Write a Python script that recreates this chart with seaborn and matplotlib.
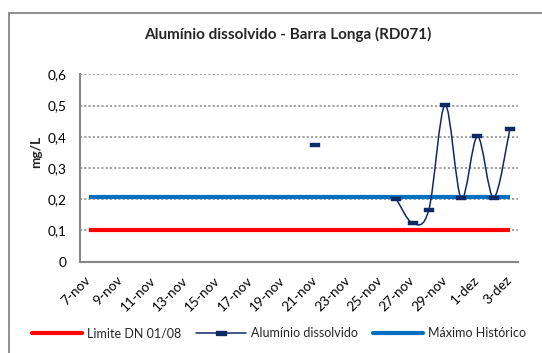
import numpy as np
import pandas as pd
import matplotlib
matplotlib.use("Agg")
import matplotlib.pyplot as plt
from matplotlib.path import Path
from matplotlib.patches import PathPatch, Rectangle
from matplotlib.lines import Line2D
import seaborn as sns

# ---- data -------------------------------------------------------------
days = pd.date_range("2015-11-07", "2015-12-03", freq="D")
tick_labels = ["7-nov", "9-nov", "11-nov", "13-nov", "15-nov", "17-nov", "19-nov",
               "21-nov", "23-nov", "25-nov", "27-nov", "29-nov", "1-dez", "3-dez"]

aluminio_dates = ["2015-11-21", "2015-11-26", "2015-11-27", "2015-11-28", "2015-11-29",
                  "2015-11-30", "2015-12-01", "2015-12-02", "2015-12-03"]
aluminio_vals = [0.373, 0.20, 0.123, 0.167, 0.502, 0.203, 0.401, 0.205, 0.425]

limite_dn = 0.1
maximo_historico = 0.208

title = "Alumínio dissolvido - Barra Longa (RD071)"
y_label = "mg/L"

# ---- style ------------------------------------------------------------
sns.set_style("white")
plt.rcParams["font.family"] = ["Lato", "DejaVu Sans"]

RED = "#FF0000"
NAVY = "#0E2A66"
BLUE = "#0070C0"
GRAY = "#868686"
FS = 9.8
LEG_FS = 9.0

W, H = 542, 353
fig = plt.figure(figsize=(W / 100, H / 100), dpi=100)
ax = fig.add_axes([80.5 / W, 1 - 261.7 / H, (518 - 80.5) / W, (261.7 - 74.3) / H])

start = days[0]
day_pos = lambda d: (pd.Timestamp(d) - start).days + 0.5  # category centre

ref = pd.DataFrame({"x": [day_pos(d) for d in days],
                    "limite": limite_dn,
                    "maximo": maximo_historico})
alu = pd.DataFrame({"x": [day_pos(d) for d in aluminio_dates], "y": aluminio_vals})

sns.lineplot(data=ref, x="x", y="limite", ax=ax, color=RED, lw=3.0,
             solid_capstyle="butt", zorder=3)
sns.lineplot(data=ref, x="x", y="maximo", ax=ax, color=BLUE, lw=3.0,
             solid_capstyle="butt", zorder=3)

# smoothed line through the consecutive run of samples (Bezier segments)
run = alu.iloc[1:].to_numpy()
verts = [tuple(run[0])]
codes = [Path.MOVETO]
n = len(run)
for i in range(n - 1):
    p0 = run[i - 1] if i > 0 else run[i]
    p1, p2 = run[i], run[i + 1]
    p3 = run[i + 2] if i + 2 < n else run[i + 1]
    c1 = p1 + (p2 - p0) / 6.0
    c2 = p2 - (p3 - p1) / 6.0
    verts += [tuple(c1), tuple(c2), tuple(p2)]
    codes += [Path.CURVE4] * 3
ax.add_patch(PathPatch(Path(verts, codes), fill=False, edgecolor=NAVY, lw=1.1, zorder=4))

dash_marker = [(-1, -0.45), (1, -0.45), (1, 0.45), (-1, 0.45), (-1, -0.45)]
sns.scatterplot(data=alu, x="x", y="y", ax=ax, marker=dash_marker, s=42,
                color=NAVY, edgecolor=NAVY, linewidth=0.3, zorder=5)

# ---- axes -------------------------------------------------------------
ax.set_xlim(0, 27)
ax.set_ylim(0, 0.6)
ax.set_yticks(np.arange(0, 0.61, 0.1))
ax.set_yticklabels(["0" if v == 0 else f"{v:.1f}".replace(".", ",") for v in np.arange(0, 0.61, 0.1)])
ax.set_xticks(np.arange(0, 28, 2))
ax.set_xticklabels([])
ax.set_xticks(np.arange(0, 27, 2) + 0.5, minor=True)
ax.set_xticklabels(tick_labels, minor=True, rotation=45, ha="right", va="center",
                   rotation_mode="anchor")
ax.tick_params(axis="x", which="minor", length=0, pad=12, labelsize=FS, colors="black")
ax.tick_params(axis="x", which="major", direction="out", length=4, width=1.2, color=GRAY)
ax.tick_params(axis="y", direction="out", length=4, width=1.2, color=GRAY, pad=6,
               labelsize=FS, labelcolor="black")
ax.set_xlabel("")
ax.set_ylabel("")

ax.grid(False)
for v in np.arange(0.1, 0.61, 0.1):
    ax.axhline(v, color=GRAY, lw=1.1, ls=(0, (1.4, 1.4)), zorder=1)

for side in ["top", "right"]:
    ax.spines[side].set_visible(False)
for side in ["left", "bottom"]:
    ax.spines[side].set_color(GRAY)
    ax.spines[side].set_linewidth(1.5)

# ---- texts ------------------------------------------------------------
fig.text(288 / W, 1 - 34 / H, title, ha="center", va="center",
         fontsize=11, fontweight="bold")
fig.text(36 / W, 1 - 152 / H, y_label, ha="center", va="center",
         rotation=90, fontsize=FS, fontweight="bold")

handles = [
    Line2D([], [], color=RED, lw=3.0),
    Line2D([], [], color=NAVY, lw=1.1, marker=dash_marker, markersize=6.5),
    Line2D([], [], color=BLUE, lw=3.0),
]
fig.legend(handles, ["Limite DN 01/08", "Alumínio dissolvido", "Máximo Histórico"],
           loc="center", bbox_to_anchor=(279 / W, 1 - 333 / H), ncol=3, frameon=False,
           fontsize=LEG_FS, handlelength=4.0, handletextpad=0.4, columnspacing=1.2,
           borderpad=0)

# chart area border
fig.add_artist(Rectangle((8.5 / W, -0.1), 1.2, 1 - 12.5 / H + 0.1, transform=fig.transFigure,
                         fill=False, edgecolor=GRAY, lw=1.3))

fig.savefig("out.png", dpi=100)
